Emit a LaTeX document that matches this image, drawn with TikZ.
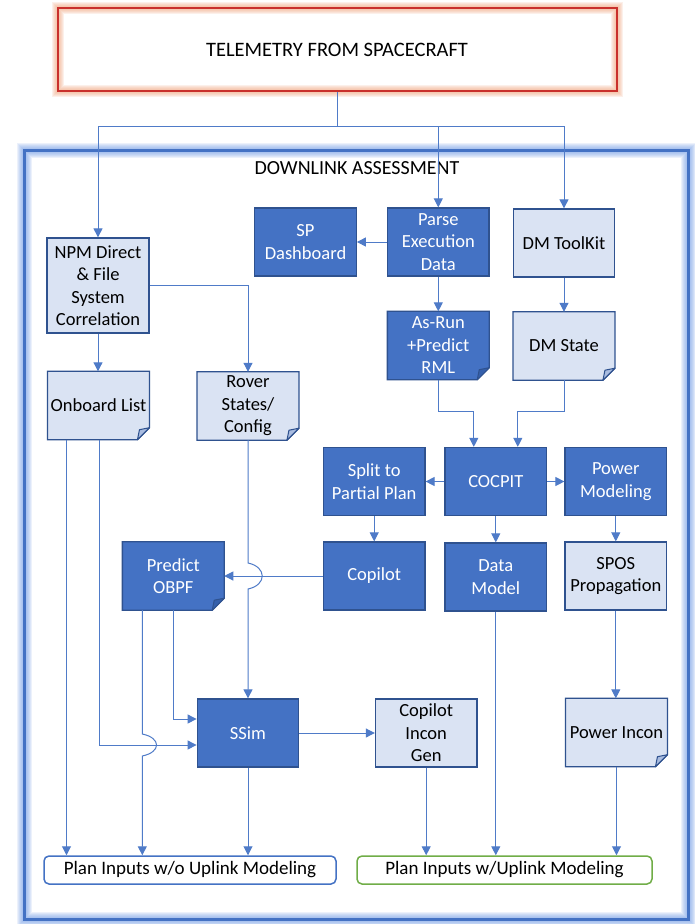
\documentclass[tikz,border=0pt]{standalone}
\usepackage{fontspec}
\setmainfont{Carlito}
\usetikzlibrary{arrows.meta,calc}
\definecolor{dkfill}{HTML}{4472C4}
\definecolor{dkline}{HTML}{2F528F}
\definecolor{ltfill}{HTML}{DAE3F3}
\definecolor{conn}{HTML}{4F7BC8}
\definecolor{redb}{HTML}{C9302C}
\definecolor{redglow}{HTML}{F2A57E}
\definecolor{blueglow}{HTML}{6E98E6}
\definecolor{blueb}{HTML}{4472C4}
\definecolor{greenb}{HTML}{70AD47}
\definecolor{dkflap}{HTML}{3560AC}
\definecolor{ltflap}{HTML}{A9BCE0}
\pgfdeclarelayer{bg}
\pgfsetlayers{bg,main}
\newcommand{\dfold}[3]{%
 \begin{pgfonlayer}{bg}
 \filldraw[fill=#2, draw=dkline, line width=1.3pt, line join=miter] (#1.north west) -- (#1.north east) -- ([yshift=12pt]#1.south east) -- ([xshift=-12pt]#1.south east) -- (#1.south west) -- cycle;
 \filldraw[fill=#3, draw=dkline, line width=1pt, line join=round] ([xshift=-12pt]#1.south east) -- ([yshift=12pt]#1.south east) -- ([xshift=-10pt,yshift=10pt]#1.south east) -- cycle;
 \end{pgfonlayer}}
\begin{document}
\begin{tikzpicture}[x=1pt,y=-1pt,
 box/.style={minimum width=101.5pt, minimum height=68pt, inner sep=1pt, align=center, font=\fontsize{18.5}{22.5}\selectfont},
 dark/.style={box, fill=dkfill, draw=dkline, line width=1.3pt, text=white},
 light/.style={box, fill=ltfill, draw=dkline, line width=1.3pt, text=black},
 darkdoc/.style={box, text=white},
 lightdoc/.style={box, text=black},
 planbox/.style={minimum width=292pt, minimum height=28pt, inner sep=0pt, rounded corners=5pt, fill=white, line width=1.5pt, font=\fontsize{19}{22}\selectfont},
 arr/.style={draw=conn, line width=1pt, -{Triangle[length=9pt,width=9pt]}},
 ln/.style={draw=conn, line width=1pt},
]
\begin{pgfonlayer}{bg}
\fill[white] (0,0) rectangle (694,924);
\end{pgfonlayer}
\useasboundingbox (0,0) rectangle (694,924);

% Downlink assessment frame
\foreach \w in {15,13,11,9,7,5}
  \draw[blueglow, line width=\w pt, opacity=0.13] (24.3,150) rectangle (688,919);
\node[draw=blueb, line width=3pt, minimum width=663.7pt, minimum height=769pt, inner sep=0pt] (down) at (356.15,534.5) {};
\node[font=\fontsize{20}{24}\selectfont] (dltitle) at (357,168) {DOWNLINK ASSESSMENT};

% Telemetry box
\foreach \w in {12,10,8,6,4}
  \draw[redglow, line width=\w pt, opacity=0.16] (57.5,8) rectangle (616.5,91);
\node[draw=redb, line width=2pt, minimum width=559pt, minimum height=83pt, inner sep=0pt, font=\fontsize{20.5}{24}\selectfont] (tele) at (337,49.5) {TELEMETRY FROM SPACECRAFT};

% Boxes
\node[dark] (sp) at (305.5,242) {SP\\Dashboard};
\node[dark] (parse) at (438.3,242) {Parse\\Execution\\Data};
\node[light] (dmtk) at (564,243) {DM ToolKit};
\node[light, minimum width=102pt, minimum height=95pt] (npm) at (98,285.5) {NPM Direct\\\& File\\System\\Correlation};
\node[darkdoc] (asrun) at (438.3,345.5) {As-Run\\+Predict\\RML};
\node[lightdoc] (dmstate) at (564,346) {DM State};
\node[lightdoc] (onboard) at (98.5,405.5) {Onboard List};
\node[lightdoc] (rover) at (248,406) {Rover\\States/\\Config};
\node[dark] (split) at (374.2,481.5) {Split to\\Partial Plan};
\node[dark] (cocpit) at (495.8,481.5) {COCPIT};
\node[dark] (power) at (615.8,481.5) {Power\\Modeling};
\node[darkdoc] (obpf) at (173.3,576) {Predict\\OBPF};
\node[dark] (copilot) at (374.2,576) {Copilot};
\node[dark] (datamodel) at (495.8,577) {Data\\Model};
\node[light] (spos) at (615.8,576) {SPOS\\Propagation};
\node[dark] (ssim) at (248,733) {SSim};
\node[light] (cig) at (426.2,733) {Copilot\\Incon\\Gen};
\node[lightdoc] (pincon) at (616.5,732.5) {Power Incon};
\node[planbox, draw=blueb] (pwo) at (190,870) {Plan Inputs w/o Uplink Modeling};
\node[planbox, draw=greenb, minimum width=295pt] (pw) at (504.5,870) {Plan Inputs w/Uplink Modeling};

\dfold{asrun}{dkfill}{dkflap}
\dfold{obpf}{dkfill}{dkflap}
\dfold{dmstate}{ltfill}{ltflap}
\dfold{onboard}{ltfill}{ltflap}
\dfold{rover}{ltfill}{ltflap}
\dfold{pincon}{ltfill}{ltflap}

% Connectors
\coordinate (j) at ($(tele.south)+(0,34)$);
\draw[ln] (tele.south) -- (j);
\draw[arr] (j) -| (npm.north);
\draw[arr] (j) -| (parse.north);
\draw[arr] (j) -| (dmtk.north);
\draw[arr] (parse.west) -- (sp.east);
\draw[arr] (parse.south) -- (asrun.north);
\draw[arr] (dmtk.south) -- (dmstate.north);
\draw[arr] (npm.south) -- (npm.south |- onboard.north);
\draw[arr] (npm.east) -| (rover.north);
\coordinate (m) at ($(cocpit.north)+(0,-35)$);
\draw[arr] (asrun.south) -- (asrun.south |- m) -| ([xshift=-22pt]cocpit.north);
\draw[arr] (dmstate.south) -- (dmstate.south |- m) -| ([xshift=22pt]cocpit.north);
\draw[arr] (cocpit.west) -- (split.east);
\draw[arr] (cocpit.east) -- (power.west);
\draw[arr] (split.south) -- (copilot.north);
\draw[arr] (cocpit.south) -- (datamodel.north);
\draw[arr] (power.south) -- (spos.north);
\draw[arr] (copilot.west) -- (obpf.east);
\coordinate (h1) at (rover.south |- copilot.west);
\draw[arr] (rover.south) -- ($(h1)+(0,-13)$) .. controls +(19,4) and +(19,-4) .. ($(h1)+(0,13)$) -- (ssim.north);
\draw[arr] ([xshift=-32pt]onboard.south) -- ([xshift=-32pt]onboard.south |- pwo.north);
\draw[arr] ([xshift=1pt]onboard.south) |- ([yshift=-12pt]ssim.west);
\draw[arr] (obpf.south) |- ([yshift=14pt]ssim.west);
\coordinate (h2) at ($(obpf.south |- ssim.west)+(-31,12)$);
\draw[arr] ([xshift=-31pt]obpf.south) -- ($(h2)+(0,-11)$) .. controls +(19,4) and +(19,-4) .. ($(h2)+(0,11)$) -- (h2 |- pwo.north);
\draw[arr] (ssim.south) -- (ssim.south |- pwo.north);
\draw[arr] (ssim.east) -- (cig.west);
\draw[arr] (cig.south) -- (cig.south |- pw.north);
\draw[arr] (datamodel.south) -- (datamodel.south |- pw.north);
\draw[arr] (spos.south) -- (spos.south |- pincon.north);
\draw[arr] (pincon.south) -- (pincon.south |- pw.north);
\end{tikzpicture}
\end{document}
